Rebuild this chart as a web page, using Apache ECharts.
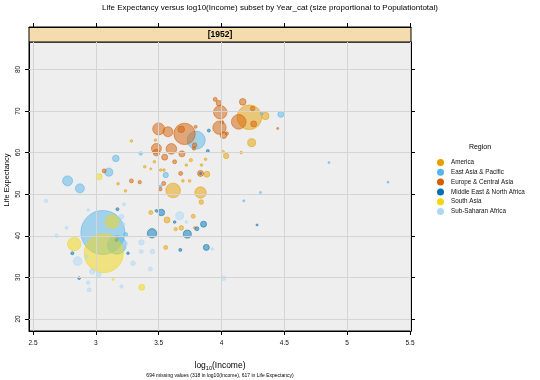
<!DOCTYPE html>
<html><head><meta charset="utf-8">
<script src="https://cdn.jsdelivr.net/npm/echarts@6/dist/echarts.min.js"></script>
<style>html,body{margin:0;padding:0;background:#fff}#c{width:540px;height:380px}</style>
</head><body><div id="c"></div>
<script>
const regions = ['America','East Asia & Pacific','Europe & Central Asia','Middle East & North Africa','South Asia','Sub-Saharan Africa'];
const colorsRGB = [[230,159,0],[86,180,233],[213,94,0],[0,114,178],[242,215,15],[173,216,247]];
const xTicks = [2.5,3,3.5,4,4.5,5,5.5];
const yTicks = [20,30,40,50,60,70,80];

// log10(Income), Life Expectancy, population (millions) per region
const amerX = [4.222,4.349,4.240,4.037,4.156,4.013,3.615,3.833,3.839,3.883,3.566,3.775,3.635,3.680,3.786,3.556,3.437,3.283,3.474,3.466,3.756,3.720,3.693,3.746,3.516,3.542,3.437,3.873,3.841,3.389,3.177,3.236];
const amerY = [68.5,68.8,62.4,59.2,60.0,60.2,50.9,50.4,48.1,54.8,43.8,44.7,41.6,41.9,41.9,37.2,45.6,62.8,63.0,57.8,58.2,57.0,53.2,53.2,55.8,55.8,56.1,58.4,57.0,56.6,52.5,50.8];
const amerPop = [175,16,18.5,8.4,2,2,62,37.6,6,10.4,10.4,4.6,3.3,6,2,4.6,4.6,2,2,2,3.3,2,2,2,2,2,1.2,2,2,2,2,2];

const eapX = [3.056,3.167,3.799,4.472,4.320,3.556,3.357,3.159,3.103,2.775,2.873,3.238,3.516,4.310,4.177,4.855,5.325];
const eapY = [40.8,37.8,63.0,69.2,69.4,54.6,59.8,58.6,55.3,53.2,51.4,40.3,51.9,50.4,48.4,57.6,52.9];
const eapPop = [560,100,94,10.4,2,8.4,3.3,12.6,18.5,29,23.4,4.6,2,1.2,1.2,1.2,1.2];

const eurX = [3.706,3.500,3.574,3.680,3.794,3.990,3.950,3.979,4.169,4.137,4.248,4.256,4.447,3.984,4.016,4.042,4.005,3.786,3.780,3.482,3.482,3.601,3.548,3.685,3.627,3.540,3.513,3.675,3.833,3.283,3.349,3.066];
const eurY = [64.5,65.7,65.0,65.6,66.2,69.7,72.8,71.9,72.2,67.4,70.6,66.9,65.8,66.0,64.2,64.6,67.3,61.8,61.0,61.0,60.0,60.9,58.9,59.7,57.8,52.6,51.2,55.0,55.0,53.2,52.9,55.6];
const eurPop = [132,41.6,29,12.6,2.6,52,4.6,8.4,12.6,62,6,10.4,1.2,52,12.6,3.3,3.3,6,3.3,29,12.6,32.5,10.4,10.4,4.6,4.6,3.3,4.6,10.4,4.6,3.3,4.6];

const menaX = [3.521,3.447,3.728,3.857,3.804,3.879,3.672,3.627,3.899,3.891,3.172,2.813,2.867,3.164,3.256,4.283,3.833,3.482];
const menaY = [45.6,40.6,40.4,42.8,41.7,37.2,36.6,43.3,65.3,60.4,46.4,35.8,29.8,39.0,35.8,42.6,55.0,46.0];
const menaPop = [12.6,25.5,18.5,10.4,4.6,10.4,2.6,2,2.6,2.6,2.6,2.6,2,2.6,2,1.2,1.2,2];

const saX = [3.063,2.828,3.129,3.026,3.365,3.137];
const saY = [35.8,38.0,43.4,54.2,27.6,29.5];
const saPop = [440,52,52,10.4,10.4,1.2];

const ssaX = [2.603,2.688,2.767,2.855,2.926,2.971,3.024,2.947,2.939,3.204,3.296,3.434,3.450,3.363,3.236,3.204,3.225,2.939,3.667,3.720,3.926,4.016,3.222,3.361];
const ssaY = [48.4,40.0,41.9,33.9,35.0,31.4,30.7,27.0,28.7,27.8,33.4,32.0,36.2,38.4,38.2,44.6,47.6,46.2,44.8,43.3,36.8,29.8,42.8,36.2];
const ssaPop = [3.3,3.3,2.6,21.4,3.3,8.4,6,4.6,3.3,3.3,6,4.6,6,8.4,4.6,6,2.6,2,18.5,2,2,6,2,4.6];

const groups = [[amerX,amerY,amerPop],[eapX,eapY,eapPop],[eurX,eurY,eurPop],[menaX,menaY,menaPop],[saX,saY,saPop],[ssaX,ssaY,ssaPop]];

const rgba = (c,a)=>`rgba(${c[0]},${c[1]},${c[2]},${a})`;
const FONT = 'Liberation Sans, Arial, sans-serif';

const chart = echarts.init(document.getElementById('c'), null, {renderer:'canvas'});

const series = [{
  type:'scatter', data:[], silent:true, z:1, xAxisIndex:0, yAxisIndex:0,
  markLine:{silent:true, symbol:'none', label:{show:false}, animation:false,
    lineStyle:{color:'#d4d4d4', width:1, type:'solid'},
    data: xTicks.map(v=>({xAxis:v})).concat(yTicks.map(v=>({yAxis:v})))}
}];
groups.forEach((g,i)=>{
  series.push({
    name: regions[i], type:'scatter', z:2, xAxisIndex:0, yAxisIndex:0,
    data: g[0].map((x,k)=>[x, g[1][k], g[2][k]]),
    symbolSize: v => Math.max(2, 1.86*Math.sqrt(v[2])),
    itemStyle:{color: rgba(colorsRGB[i],0.62), borderColor: rgba(colorsRGB[i],0.85), borderWidth:0.8},
    emphasis:{disabled:true}
  });
});
// empty series to bind the strip grid
series.push({type:'scatter', data:[], xAxisIndex:1, yAxisIndex:2, silent:true});

const gridL = 29, gridR = 129, gridT = 42, gridB = 49;
const xMin = 2.468, xMax = 5.508, yMin = 17.1, yMax = 86.6;
const stripTop = 27;

chart.setOption({
  animation:false,
  textStyle:{fontFamily:FONT},
  grid:[
    {left:gridL, right:gridR, top:gridT, bottom:gridB, show:true, backgroundColor:'#eeeeee', borderColor:'#000', borderWidth:1},
    {left:gridL, right:gridR, top:stripTop, height:15, show:true, backgroundColor:'#f5dcae', borderColor:'#000', borderWidth:1}
  ],
  xAxis:[
    {type:'value', gridIndex:0, min:xMin, max:xMax, position:'bottom',
     axisLine:{show:true, onZero:false, lineStyle:{color:'#000', width:1}},
     axisTick:{show:true, inside:false, length:4, customValues:xTicks, lineStyle:{color:'#000'}},
     axisLabel:{show:true, customValues:xTicks, margin:9, fontSize:6.5, color:'#111', fontFamily:FONT, formatter:v=>String(v)},
     splitLine:{show:false}},
    {type:'value', gridIndex:1, min:xMin, max:xMax, position:'top',
     axisLine:{show:true, onZero:false, lineStyle:{color:'#000', width:1}},
     axisTick:{show:true, inside:false, length:4, customValues:xTicks, lineStyle:{color:'#000', width:1}},
     axisLabel:{show:true, customValues:xTicks, color:'rgba(0,0,0,0)', fontSize:6}, splitLine:{show:false}}
  ],
  yAxis:[
    {type:'value', gridIndex:0, min:yMin, max:yMax, position:'left',
     axisLine:{show:true, onZero:false, lineStyle:{color:'#000', width:1}},
     axisTick:{show:true, inside:false, length:4, customValues:yTicks, lineStyle:{color:'#000'}},
     axisLabel:{show:true, customValues:yTicks, rotate:90, margin:7, fontSize:6.5, color:'#111', fontFamily:FONT},
     splitLine:{show:false}},
    {type:'value', gridIndex:0, min:yMin, max:yMax, position:'right',
     axisLine:{show:true, onZero:false, lineStyle:{color:'#000', width:1}},
     axisTick:{show:true, inside:false, length:4, customValues:yTicks, lineStyle:{color:'#000'}},
     axisLabel:{show:true, customValues:yTicks, color:'rgba(0,0,0,0)', fontSize:6}, splitLine:{show:false}},
    {type:'value', gridIndex:1, min:0, max:1, show:false}
  ],
  legend:{
    orient:'vertical', left:432, top:154, itemWidth:7, itemHeight:7, itemGap:2.8,
    selectedMode:false, icon:'circle',
    textStyle:{fontSize:6.3, color:'#111', fontFamily:FONT, padding:[0,0,0,2]},
    data: regions.map((r,i)=>({name:r, itemStyle:{color:rgba(colorsRGB[i],1), borderWidth:0, opacity:1}}))
  },
  graphic:[
    {type:'text', left:'center', top:4, style:{text:'Life Expectancy versus log10(Income) subset by Year_cat (size proportional to Populationtotal)', fontSize:8, fill:'#000', fontFamily:FONT}},
    {type:'text', x:220, y:34.5, style:{text:'[1952]', fontSize:8.5, fontWeight:'bold', fill:'#000', align:'center', verticalAlign:'middle', fontFamily:FONT}, z:11},
    {type:'text', x:7, y:180, rotation:Math.PI/2, style:{text:'Life Expectancy', fontSize:7.5, fill:'#000', align:'center', verticalAlign:'middle', fontFamily:FONT}},
    {type:'text', x:220, y:366, style:{text:'log{s|10}(Income)', fontSize:8.5, fill:'#000', align:'center', verticalAlign:'middle', fontFamily:FONT,
      rich:{s:{fontSize:5.5, padding:[5,0,0,0], fill:'#000', fontFamily:FONT}}}},
    {type:'text', x:220, y:376, style:{text:'694 missing values (318 in log10(Income), 617 in Life Expectancy)', fontSize:5, fill:'#000', align:'center', verticalAlign:'middle', fontFamily:FONT}},
    {type:'text', x:480, y:147, style:{text:'Region', fontSize:7, fill:'#000', align:'center', verticalAlign:'middle', fontFamily:FONT}}
  ],
  series: series
});
</script></body></html>
